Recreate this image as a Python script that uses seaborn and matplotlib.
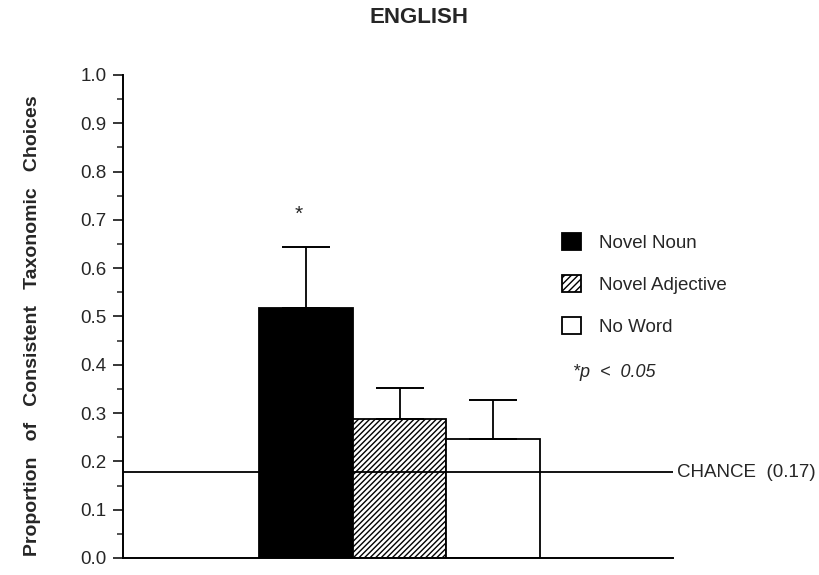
import numpy as np
import pandas as pd
import matplotlib.pyplot as plt
import seaborn as sns
from matplotlib.patches import Patch
from matplotlib.ticker import MultipleLocator

## data
conditions = ['Novel Noun', 'Novel Adjective', 'No Word']
means = [0.518, 0.288, 0.246]
upper_err = [0.125, 0.064, 0.081]
chance = 0.177
sig_marks = ['*', '', '']

df = pd.DataFrame({'condition': conditions, 'mean': means})

sns.set_style('white')
plt.rcParams['font.family'] = ['Liberation Sans', 'DejaVu Sans']

fig = plt.figure(figsize=(8.2, 5.75), dpi=100)
ax = fig.add_axes([0.15, 0.0296, 0.671, 0.84])

colors = ['black', 'white', 'white']
sns.barplot(data=df, x='condition', y='mean', hue='condition', palette=colors,
            width=1.0, dodge=False, legend=False, edgecolor='black', linewidth=1.3, ax=ax)
hatches = ['', '//////', '']
for bar, h in zip(ax.patches, hatches):
    bar.set_hatch(h)

## one-sided error bars
xs = np.arange(len(conditions))
ax.errorbar(xs, means, yerr=[np.zeros(len(means)), upper_err], fmt='none',
            ecolor='black', elinewidth=1.3, capsize=17, capthick=1.4)
for x, m, e, s in zip(xs, means, upper_err, sig_marks):
    if s:
        ax.text(x - 0.075, m + e + 0.068, s, ha='center', va='center', fontsize=15)

## chance line
ax.axhline(chance, color='black', lw=1.3)
ax.text(1.007, chance, 'CHANCE  (0.17)', transform=ax.get_yaxis_transform(),
        ha='left', va='center', fontsize=13.5)

ax.set_xlim(-1.957, 3.925)
ax.set_ylim(0, 1.0)
ax.yaxis.set_major_locator(MultipleLocator(0.1))
ax.yaxis.set_minor_locator(MultipleLocator(0.05))
ax.set_yticks(np.arange(0, 1.01, 0.1))
ax.set_yticklabels([f'{v:.1f}' for v in np.arange(0, 1.01, 0.1)], fontsize=13.5)
ax.tick_params(axis='y', which='major', left=True, length=7, width=1.3, direction='out', pad=5)
ax.tick_params(axis='y', which='minor', left=True, length=4, width=1.1, direction='out')
ax.set_xticks([])
ax.set_xlabel('')
ax.set_ylabel('Proportion   of   Consistent   Taxonomic   Choices', fontsize=14,
              fontweight='bold', labelpad=28)
ax.yaxis.label.set_y(0.48)
for side in ['top', 'right']:
    ax.spines[side].set_visible(False)
for side in ['left', 'bottom']:
    ax.spines[side].set_color('black')
    ax.spines[side].set_linewidth(1.4)

fig.suptitle('ENGLISH', x=0.511, y=0.987, fontsize=16, fontweight='bold')

## legend
handles = [Patch(facecolor=c, edgecolor='black', hatch=h, linewidth=1.3)
           for c, h in zip(colors, ['', '/////', ''])]
leg = ax.legend(handles, conditions, loc='upper left', bbox_to_anchor=(0.767, 0.707),
                frameon=False, fontsize=13.5, handlelength=1.0, handleheight=1.0,
                labelspacing=1.22, handletextpad=1.0)
ax.text(0.818, 0.385, '*p  <  0.05', transform=ax.transAxes, fontsize=13,
        style='italic', ha='left', va='center')

fig.savefig('out.png', dpi=100)
